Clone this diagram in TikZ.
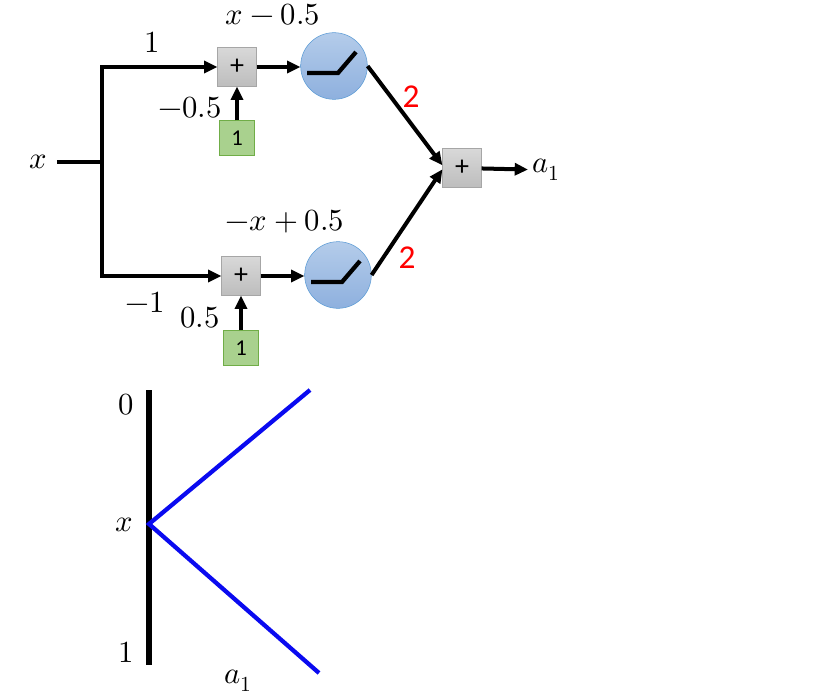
\documentclass[tikz,border=0pt]{standalone}
\usepackage{fontspec}
\usepackage{unicode-math}
\setmathfont{Latin Modern Math}
\newfontfamily\boxfont{Carlito}
\usetikzlibrary{positioning,arrows.meta,calc}
\definecolor{sumtop}{HTML}{D8D8D8}
\definecolor{sumbot}{HTML}{BDBDBD}
\definecolor{sumedge}{HTML}{A6A6A6}
\definecolor{biasfill}{HTML}{A9D18E}
\definecolor{biasedge}{HTML}{70AD47}
\definecolor{relutop}{HTML}{B4CCEA}
\definecolor{relubot}{HTML}{8EB0DE}
\definecolor{reluedge}{HTML}{5B9BD5}
\definecolor{wred}{HTML}{FF0000}
\definecolor{outblue}{HTML}{0A0AF0}

\begin{document}
\begin{tikzpicture}[x=0.75pt,y=-0.75pt,
  every node/.style={font=\fontsize{23}{25}\selectfont},
  plain/.style={line width=3pt},
  wire/.style={line width=3pt,-{Triangle[length=10pt,width=9pt]}},
  sumbox/.style={draw=sumedge,top color=sumtop,bottom color=sumbot,minimum size=29pt,inner sep=0pt,font=\boxfont\fontsize{21}{22}\selectfont},
  biasbox/.style={draw=biasedge,fill=biasfill,minimum size=26pt,inner sep=0pt,font=\boxfont\fontsize{17}{18}\selectfont},
  relu/.style={circle,draw=reluedge,top color=relutop,bottom color=relubot,minimum size=50pt,inner sep=0pt},
  glyph/.style={line width=3.2pt},
  wt/.style={text=wred,font=\boxfont\fontsize{25}{26}\selectfont}]
\useasboundingbox (0,0) rectangle (834,695);
% network
\node (xin) at (38,162) {$x$};
\coordinate (split) at (102,162);
\foreach \n/\sx/\sy/\bx/\by/\rx/\ry in {A/237/67/237/138/334/66, B/241/276/241/348/338/275}{
  \node[sumbox] (sum\n) at (\sx,\sy) {+};
  \node[biasbox] (bias\n) at (\bx,\by) {1};
  \node[relu] (relu\n) at (\rx,\ry) {};
  \draw[glyph] ([shift={(-27,7)}]relu\n.center) -- ++(31,0) -- ++(18,-21);
}
\node[sumbox] (sumOut) at (462,168) {+};
\node[anchor=west] (aout) at (528,170) {$a_1$};

\draw[plain,shorten <=4pt] (xin) -- (split);
\draw[wire] (split) |- (sumA);
\draw[wire] (split) |- (sumB);
\draw[wire] (biasA) -- (sumA);
\draw[wire] (biasB) -- (sumB);
\draw[wire] (sumA) -- (sumA -| reluA.west);
\draw[wire] (sumB) -- (sumB -| reluB.west);
\draw[wire] (reluA.east) -- ([yshift=2pt]sumOut.west);
\draw[wire] (reluB.east) -- ([yshift=-1pt]sumOut.west);
\draw[wire] (sumOut) -- (aout);

% labels
\node (wA) at (152,42) {$1$};
\node (zA) at (273,15) {$x-0.5$};
\node (bA) at (190,108) {$-0.5$};
\node[wt] (vA) at (411,97) {2};
\node (wB) at (145,302) {$-1$};
\node (zB) at (285,222) {$-x+0.5$};
\node (bB) at (200,318) {$0.5$};
\node[wt] (vB) at (407,258) {2};

% output plot
\coordinate (ax0) at (149,390);
\coordinate (ax1) at (149,665);
\coordinate (apex) at (149,524);
\draw[line width=4pt] (ax0) -- (ax1);
\draw[outblue,line width=3.2pt] (310,390) -- (apex) -- (319,673);
\node (l0) at (126,405) {$0$};
\node (lx) at (124,525) {$x$};
\node (l1) at (126,652) {$1$};
\node (la) at (238,681) {$a_1$};
\end{tikzpicture}
\end{document}
